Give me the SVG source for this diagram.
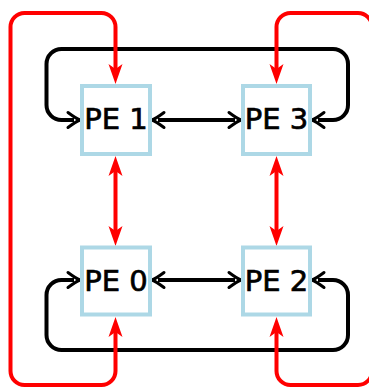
<svg xmlns="http://www.w3.org/2000/svg" width="369" height="389" viewBox="0 0 369 389">
  <style>
    .pe rect { fill: #ffffff; stroke: #add8e6; stroke-width: 4; }
    .pe text { font-family: "DejaVu Sans", sans-serif; font-size: 29px; fill: #000000; stroke: #000000; stroke-width: 0.7; text-anchor: middle; }
    .blk { fill: none; stroke: #000000; stroke-width: 4; marker-start: url(#to); marker-end: url(#to); }
    .red { fill: none; stroke: #ff0000; stroke-width: 4; marker-start: url(#stealth); marker-end: url(#stealth); }
  </style>
  <defs>
    <!-- open chevron head, tip 6px past the path end -->
    <marker id="to" markerUnits="userSpaceOnUse" viewBox="-10 -10 20 20" markerWidth="20" markerHeight="20" refX="0" refY="0" orient="auto-start-reverse" overflow="visible">
      <path d="M-6,-7.5 Q2,-1.5 6,0 Q2,1.5 -6,7.5" fill="none" stroke="#000000" stroke-width="3" stroke-linecap="round" stroke-linejoin="round"/>
    </marker>
    <!-- filled notched head, tip 12px past the path end -->
    <marker id="stealth" markerUnits="userSpaceOnUse" viewBox="-10 -10 25 20" markerWidth="25" markerHeight="20" refX="0" refY="0" orient="auto-start-reverse" overflow="visible">
      <path d="M12,0 L-8,-7 L-3,0 L-8,7 Z" fill="#ff0000"/>
    </marker>
  </defs>

  <g id="connectors">
    <!-- horizontal links -->
    <path class="blk" d="M158,120 L235,120"/>
    <path class="blk" d="M158,280 L235,280"/>
    <!-- top wrap-around PE 3 to PE 1 -->
    <path class="blk" d="M318,120 L333,120 A15,15 0 0 0 348,105 L348,64 A15,15 0 0 0 333,49 L61.5,49 A15,15 0 0 0 46.5,64 L46.5,105 A15,15 0 0 0 61.5,120 L74,120"/>
    <!-- bottom wrap-around PE 2 to PE 0 -->
    <path class="blk" d="M318,280 L333,280 A15,15 0 0 1 348,295 L348,335 A15,15 0 0 1 333,350 L61.5,350 A15,15 0 0 1 46.5,335 L46.5,295 A15,15 0 0 1 61.5,280 L74,280"/>
    <!-- vertical links -->
    <path class="red" d="M115.5,168 L115.5,234"/>
    <path class="red" d="M276.5,168 L276.5,234"/>
    <!-- left wrap-around PE 1 to PE 0 -->
    <path class="red" d="M115.5,72 L115.5,27 A14,14 0 0 0 101.5,13 L24.5,13 A14,14 0 0 0 10.5,27 L10.5,371 A14,14 0 0 0 24.5,385 L101.5,385 A14,14 0 0 0 115.5,371 L115.5,329"/>
    <!-- right wrap-around PE 3 to PE 2 -->
    <path class="red" d="M276.5,72 L276.5,27 A14,14 0 0 1 290.5,13 L358,13 A14,14 0 0 1 372,27 L372,371 A14,14 0 0 1 358,385 L290.5,385 A14,14 0 0 1 276.5,371 L276.5,329"/>
  </g>

  <g id="pe1" class="pe">
    <rect x="82" y="86" width="68" height="68"/>
    <text x="116" y="129">PE 1</text>
  </g>
  <g id="pe3" class="pe">
    <rect x="243" y="86" width="67" height="68"/>
    <text x="276.5" y="129">PE 3</text>
  </g>
  <g id="pe0" class="pe">
    <rect x="82" y="247.5" width="68" height="67"/>
    <text x="116" y="291">PE 0</text>
  </g>
  <g id="pe2" class="pe">
    <rect x="243" y="247.5" width="67" height="67"/>
    <text x="276.5" y="291">PE 2</text>
  </g>
</svg>
